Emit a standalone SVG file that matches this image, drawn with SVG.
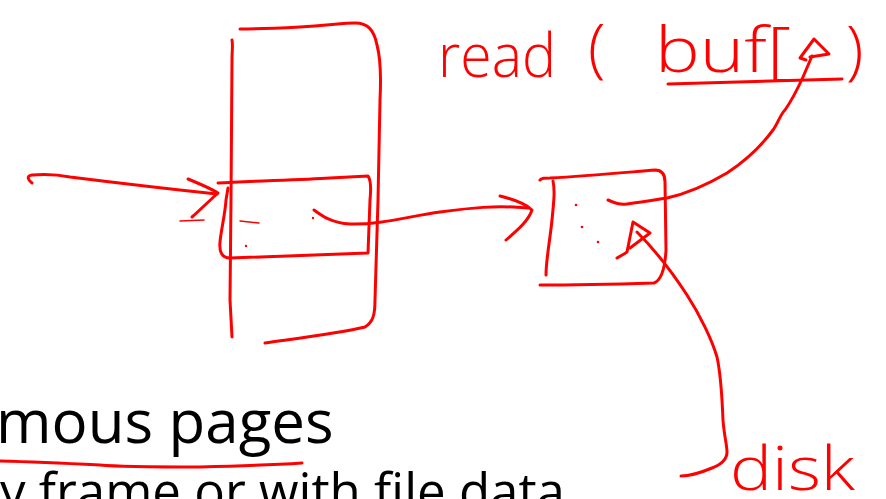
<svg xmlns="http://www.w3.org/2000/svg" width="886" height="499" viewBox="0 0 886 499">
  <style>
    .ink { fill: none; stroke: #ff0000; stroke-width: 3; stroke-linecap: round; stroke-linejoin: round; }
    .thin { stroke-width: 1.5; }
    .hand { fill: #ff0000; font-family: "Open Sans", "DejaVu Sans", sans-serif; font-weight: 300; }
    .slide { fill: #000000; font-family: "Open Sans", "Noto Sans", sans-serif; }
  </style>
  <rect width="886" height="499" fill="#ffffff"/>

  <!-- slide text behind the ink -->
  <g id="slide-text">
    <text class="slide" x="-4" y="443" font-size="60">mous pages</text>
    <text class="slide" x="0" y="510" font-size="51">y frame or with file data</text>
  </g>

  <!-- memory page (tall frame) -->
  <g id="page-frame">
    <path class="ink" d="M232,40 C233,45 232,50 232,60 L231,200 L230,300 L232,337"/>
    <path class="ink" d="M240,29 C260,29 280,28 300,27 C330,25 345,23 355,23 C368,23 374,30 377,45 C381,60 381,80 380,100 L378,200 L375,300 C375,315 373,322 365,327 C340,333 300,338 265,343"/>
  </g>

  <!-- entry inside the page -->
  <g id="entry">
    <path class="ink" d="M218,183 C250,181 300,180 330,178 L368,176 C371,180 371,190 370,200 L368,253 C330,254 280,256 230,258 C222,258 219,252 220,242 C221,230 225,215 226,200 L228,188"/>
    <path class="ink thin" d="M180,221 L204,220 M240,221 L259,223"/>
    <circle cx="246" cy="246" r="1.2" fill="#ff0000"/>
    <circle cx="313" cy="218" r="1.2" fill="#ff0000"/>
  </g>

  <!-- disk block -->
  <g id="block">
    <path class="ink" d="M540,180 C541,178 545,178 550,178 C590,176 630,172 655,170 C662,170 665,175 665,182 L666,250 C665,268 662,280 654,283 C620,284 580,285 540,285"/>
    <path class="ink" d="M553,181 C555,190 554,200 552,220 C550,240 546,260 546,275"/>
    <circle cx="576" cy="205" r="1.3" fill="#ff0000"/>
    <circle cx="582" cy="227" r="1.3" fill="#ff0000"/>
    <circle cx="598" cy="242" r="1.3" fill="#ff0000"/>
  </g>

  <!-- call label -->
  <g id="read-call">
    <text class="hand" x="438" y="77" font-size="60" textLength="118" lengthAdjust="spacingAndGlyphs">read</text>
    <text class="hand" x="588" y="70" font-size="64">(</text>
    <text class="hand" x="655" y="72" font-size="62" textLength="136" lengthAdjust="spacingAndGlyphs">buf[</text>
    <text class="hand" x="846" y="72" font-size="64">)</text>
    <path class="ink" d="M668,84 C720,82 780,81 842,79"/>
  </g>

  <!-- disk label -->
  <g id="disk-label">
    <text class="hand" x="730" y="490" font-size="60" textLength="125" lengthAdjust="spacingAndGlyphs">disk</text>
  </g>

  <!-- connectors -->
  <g id="connectors">
    <!-- incoming arrow to the entry -->
    <path class="ink" d="M32,183 C28,180 26,176 32,175 C45,174 60,175 70,177 C110,182 160,188 217,194"/>
    <path class="ink" d="M188,179 C200,184 210,188 218,193 C208,202 200,210 192,217"/>
    <!-- entry to block -->
    <path class="ink" d="M314,210 C322,216 332,223 350,224 C380,225 410,216 440,212 C470,208 495,205 528,208"/>
    <path class="ink" d="M500,196 C512,199 525,203 532,210 C528,222 515,232 506,240"/>
    <!-- block to buffer -->
    <path class="ink" d="M608,200 C615,203 620,205 627,204 C645,202 660,199 667,198 C690,193 710,183 727,173 C745,161 762,145 773,130 C778,123 780,115 785,110 C792,100 798,88 803,77 C806,70 809,63 812,56"/>
    <path class="ink" d="M806,60 L800,58 L814,39 L829,54 L810,57"/>
    <!-- disk to block -->
    <path class="ink" d="M637,232 C655,250 672,272 687,295 C700,315 712,340 717,357 C721,375 722,395 723,420 C724,435 727,445 727,452 C727,460 720,465 712,468 C700,473 690,476 681,476"/>
    <path class="ink" d="M617,258 C622,255 626,253 627,252 L633,222 L650,233 L630,248"/>
  </g>

  <!-- underline beneath the heading -->
  <path class="ink" d="M0,461 C40,462 80,464 100,465 C120,467 160,467 200,467 C240,466 270,465 302,463"/>
</svg>
